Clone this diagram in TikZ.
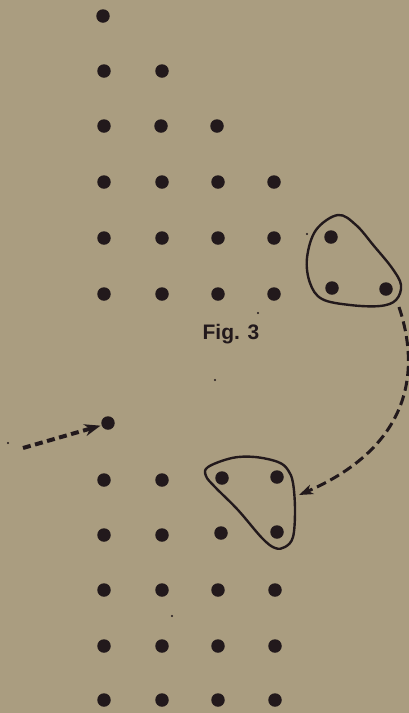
\documentclass[tikz,border=0pt]{standalone}
\usepackage{fontspec}
\setmainfont{Liberation Sans}
\usetikzlibrary{arrows.meta}
\definecolor{paper}{RGB}{170,157,128}
\definecolor{ink}{RGB}{34,25,28}
\tikzset{
  pt/.style={circle,fill=ink,inner sep=0pt,minimum size=13.5pt},
  speck/.style={circle,fill=ink,inner sep=0pt,minimum size=2.4pt},
  loop/.style={draw=ink,line width=2.4pt,line join=round},
  movearrow/.style={draw=ink,line width=3pt,dash pattern=on 10pt off 5pt,
    -{Stealth[length=14pt,width=10pt,inset=4pt]}},
  pointer/.style={draw=ink,line width=4pt,dash pattern=on 8pt off 4.5pt,
    -{Stealth[length=16pt,width=12pt,inset=5pt]}}
}
\begin{document}
\begin{tikzpicture}[x=1pt,y=-1pt]
  \fill[paper] (0,0) rectangle (409,713);
  \useasboundingbox (0,0) rectangle (409,713);

  % upper triangular array
  \node[pt] (a11) at (103,16) {};
  \node[pt] (a21) at (104,71) {};  \node[pt] (a22) at (162,71) {};
  \node[pt] (a31) at (104,126) {}; \node[pt] (a32) at (161,126) {}; \node[pt] (a33) at (217,126) {};
  \node[pt] (a41) at (104,182) {}; \node[pt] (a42) at (162,182) {}; \node[pt] (a43) at (218,182) {}; \node[pt] (a44) at (274,182) {};
  \node[pt] (a51) at (104,238) {}; \node[pt] (a52) at (162,238) {}; \node[pt] (a53) at (218,238) {}; \node[pt] (a54) at (274,238) {};
  \node[pt] (a61) at (104,294) {}; \node[pt] (a62) at (162,294) {}; \node[pt] (a63) at (218,294) {}; \node[pt] (a64) at (274,294) {};

  % the three dots carried over
  \node[pt] (t1) at (331,237) {};
  \node[pt] (t2) at (332,288) {};
  \node[pt] (t3) at (386,289) {};
  \draw[loop] plot[smooth cycle,tension=0.6] coordinates {
    (338,215) (356,225) (374,246) (392,268) (401,285) (396,300)
    (380,306) (350,305) (322,299) (310,283) (307,258) (316,230)};

  \node[font=\bfseries\fontsize{21}{21}\selectfont,text=ink] (fig) at (231,334) {Fig. 3};

  % lower array
  \node[pt] (b0) at (108,423) {};
  \node[pt] (b11) at (104,480) {}; \node[pt] (b12) at (162,480) {};
  \node[pt] (b13) at (222,478) {}; \node[pt] (b14) at (277,477) {};
  \node[pt] (b21) at (104,535) {}; \node[pt] (b22) at (162,535) {};
  \node[pt] (b23) at (221,533) {}; \node[pt] (b24) at (277,532) {};
  \node[pt] (b31) at (104,590) {}; \node[pt] (b32) at (162,590) {}; \node[pt] (b33) at (218,590) {}; \node[pt] (b34) at (275,590) {};
  \node[pt] (b41) at (104,646) {}; \node[pt] (b42) at (162,646) {}; \node[pt] (b43) at (218,646) {}; \node[pt] (b44) at (275,646) {};
  \node[pt] (b51) at (104,700) {}; \node[pt] (b52) at (162,700) {}; \node[pt] (b53) at (218,700) {}; \node[pt] (b54) at (275,700) {};

  \draw[loop] plot[smooth cycle,tension=0.6] coordinates {
    (208,467) (232,458) (255,457) (278,462) (288,470) (293,483)
    (295,510) (293,537) (285,547) (275,548) (262,538) (238,510)
    (215,487) (206,476)};

  % curved dashed arrow from upper group to lower group
  \coordinate (arcstart) at (399,307);
  \coordinate (arcend) at (299,495);
  \draw[movearrow] (arcstart) .. controls (425,385) and (398,452) .. (arcend);

  % pointer to the single dot
  \coordinate (ptail) at (23,448);
  \draw[pointer,shorten >=1pt] (ptail) -- (b0.200);

  % small specks on the paper
  \node[speck] (s1) at (307,234) {};
  \node[speck] (s2) at (215,380) {};
  \node[speck] (s3) at (172,616) {};
  \node[speck] (s4) at (258,313) {};
  \node[speck] (s5) at (8,443) {};
\end{tikzpicture}
\end{document}
